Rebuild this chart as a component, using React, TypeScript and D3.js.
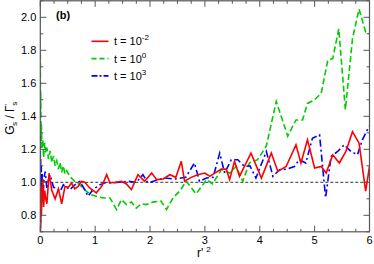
import React from "react";
import * as d3 from "d3";

// r'^2 vs G'_s / Gamma'_s, three times
const redSeries: [number, number][] = [
  [0, 1.0], [0.003, 0.7], [0.006, 0.98], [0.01, 0.75], [0.015, 0.95], [0.02, 0.8],
  [0.03, 0.92], [0.045, 1.02], [0.06, 0.85], [0.08, 0.95], [0.1, 0.9], [0.12, 0.87],
  [0.16, 1.055], [0.21, 0.95], [0.27, 0.9], [0.33, 0.96], [0.39, 0.87], [0.45, 0.975],
  [0.51, 0.97], [0.57, 0.995], [0.63, 0.96], [0.69, 0.975], [0.75, 1.005], [0.81, 1.0],
  [0.9, 0.966], [1.02, 0.936], [1.12, 0.976], [1.21, 1.046], [1.27, 0.996], [1.37, 1.0],
  [1.48, 1.006], [1.57, 0.99], [1.66, 0.956], [1.78, 1.046], [1.9, 1.006], [2.03, 1.056],
  [2.12, 1.016], [2.24, 1.02], [2.36, 1.046], [2.47, 1.03], [2.57, 1.127], [2.63, 1.006],
  [2.75, 1.03], [2.87, 1.046], [3.0, 1.056], [3.09, 1.036], [3.18, 1.056], [3.3, 1.08],
  [3.39, 1.08], [3.45, 1.016], [3.54, 1.127], [3.63, 1.036], [3.84, 1.177], [4.03, 1.026],
  [4.21, 1.177], [4.33, 1.066], [4.48, 1.096], [4.66, 1.227], [4.75, 1.117], [4.87, 1.257],
  [5.0, 1.087], [5.12, 1.096], [5.21, 1.056], [5.33, 1.167], [5.45, 1.117], [5.57, 1.187],
  [5.69, 1.307], [5.81, 1.237], [5.93, 0.946], [6.0, 1.096],
];

const greenSeries: [number, number][] = [
  [0, 1.78], [0.003, 1.4], [0.008, 1.55], [0.014, 1.25], [0.02, 1.35], [0.03, 1.2],
  [0.045, 1.26], [0.06, 1.15], [0.08, 1.24], [0.1, 1.18], [0.12, 1.21], [0.15, 1.14],
  [0.18, 1.19], [0.21, 1.12], [0.24, 1.16], [0.27, 1.1], [0.3, 1.13], [0.33, 1.08],
  [0.36, 1.12], [0.39, 1.06], [0.42, 1.1], [0.45, 1.05], [0.48, 1.07], [0.54, 1.035],
  [0.63, 1.005], [0.72, 0.985], [0.84, 0.945], [0.93, 0.925], [1.02, 0.915], [1.15, 0.905],
  [1.27, 0.905], [1.39, 0.835], [1.48, 0.895], [1.57, 0.865], [1.66, 0.88], [1.75, 0.843],
  [1.84, 0.87], [1.93, 0.865], [2.05, 0.88], [2.2, 0.886], [2.3, 0.835], [2.42, 0.906],
  [2.54, 0.946], [2.66, 1.006], [2.84, 0.93], [3.03, 1.016], [3.14, 0.99], [3.3, 1.077],
  [3.45, 1.056], [3.57, 1.096], [3.69, 1.006], [3.81, 1.117], [3.96, 1.137], [4.12, 1.22],
  [4.3, 1.49], [4.51, 1.28], [4.66, 1.378], [4.78, 1.378], [4.87, 1.478], [5.0, 1.5],
  [5.12, 1.54], [5.24, 1.74], [5.33, 1.75], [5.44, 1.93], [5.56, 1.44], [5.69, 1.87],
  [5.81, 2.05], [5.93, 1.91], [6.0, 1.9],
];

const blueSeries: [number, number][] = [
  [0, 1.28], [0.003, 0.72], [0.007, 1.15], [0.012, 0.8], [0.018, 1.1], [0.025, 0.88],
  [0.035, 1.05], [0.05, 0.92], [0.07, 1.03], [0.09, 1.065], [0.12, 0.96], [0.15, 1.02],
  [0.18, 1.045], [0.24, 0.97], [0.3, 0.965], [0.36, 0.945], [0.42, 0.985], [0.48, 0.97],
  [0.54, 0.955], [0.63, 0.985], [0.72, 1.005], [0.81, 0.955], [0.87, 0.915], [0.96, 0.956],
  [1.09, 0.986], [1.2, 1.0], [1.3, 0.996], [1.45, 1.0], [1.6, 1.006], [1.75, 1.0],
  [1.87, 1.046], [1.96, 0.996], [2.15, 1.016], [2.27, 1.026], [2.45, 1.02], [2.65, 1.03],
  [2.81, 1.117], [2.9, 1.006], [3.03, 1.026], [3.15, 1.03], [3.27, 1.177], [3.36, 1.056],
  [3.48, 1.137], [3.6, 1.137], [3.72, 1.096], [3.82, 1.1], [3.93, 1.026], [4.12, 1.187],
  [4.24, 1.036], [4.36, 1.076], [4.5, 1.08], [4.63, 1.096], [4.72, 1.137], [4.84, 1.117],
  [4.96, 1.267], [5.09, 1.287], [5.2, 0.906], [5.3, 1.157], [5.42, 1.187], [5.54, 1.227],
  [5.66, 1.187], [5.78, 1.167], [5.87, 1.257], [5.96, 1.317], [6.0, 1.34],
];

const xTicks = [0, 1, 2, 3, 4, 5, 6];
const yTicks = [0.8, 1.0, 1.2, 1.4, 1.6, 1.8, 2.0];
const legendExponents = ["-2", "0", "3"];

const W = 374;
const H = 264;
const left = 40.3;
const right = 369.5;
const top = 0.8;
const bottom = 231.8;

export default function App() {
  const x = d3.scaleLinear().domain([0, 6]).range([left, right]);
  const y = d3.scaleLinear().domain([0.7, 2.1]).range([bottom, top]);
  const line = d3
    .line<[number, number]>()
    .x((d) => x(d[0]))
    .y((d) => y(d[1]));

  const xMinor = d3.range(0, 6.001, 0.25);
  const yMinor = d3.range(0.7, 2.1001, 0.1);

  const styles = [
    { data: redSeries, color: "#ff0000", dash: "none" },
    { data: greenSeries, color: "#00cc00", dash: "6,3" },
    { data: blueSeries, color: "#0000ff", dash: "7,3,2,3" },
  ];
  const drawOrder = [1, 2, 0];
  const font = "'Liberation Sans', Arial, sans-serif";
  const axisColor = "#555";

  return (
    <svg
      width={W}
      height={H}
      style={{ position: "absolute", left: 0, top: 0, background: "#fff" }}
      fontFamily={font}
    >
      <defs>
        <clipPath id="plot">
          <rect x={left} y={top} width={right - left} height={bottom - top} />
        </clipPath>
      </defs>

      {/* reference line at 1 */}
      <line
        x1={x(0)}
        x2={x(6)}
        y1={y(1)}
        y2={y(1)}
        stroke="#000"
        strokeWidth={0.8}
        strokeDasharray="3,2"
      />

      <g clipPath="url(#plot)">
        {drawOrder.map((i) => (
          <path
            key={i}
            d={line(styles[i].data) || ""}
            fill="none"
            stroke={styles[i].color}
            strokeWidth={1.6}
            strokeDasharray={styles[i].dash}
            strokeLinejoin="miter"
          />
        ))}
      </g>

      {/* ticks, pointing inward on all four sides */}
      <g stroke={axisColor} strokeWidth={1}>
        {xMinor.map((v, i) => {
          const major = Math.abs(v - Math.round(v)) < 1e-6;
          const len = major ? 6 : 3;
          return (
            <g key={"xt" + i}>
              <line x1={x(v)} x2={x(v)} y1={bottom} y2={bottom - len} />
              <line x1={x(v)} x2={x(v)} y1={top} y2={top + len} />
            </g>
          );
        })}
        {yMinor.map((v, i) => {
          const major = Math.abs(v * 5 - Math.round(v * 5)) < 1e-6;
          const len = major ? 6 : 3;
          return (
            <g key={"yt" + i}>
              <line x1={left} x2={left + len} y1={y(v)} y2={y(v)} />
              <line x1={right} x2={right - len} y1={y(v)} y2={y(v)} />
            </g>
          );
        })}
      </g>

      <rect
        x={left}
        y={top}
        width={right - left}
        height={bottom - top}
        fill="none"
        stroke={axisColor}
        strokeWidth={1.2}
      />

      {/* tick labels */}
      <g fontSize={11} fill="#000">
        {xTicks.map((v) => (
          <text key={"xl" + v} x={x(v)} y={bottom + 12} textAnchor="middle">
            {v}
          </text>
        ))}
        {yTicks.map((v) => (
          <text key={"yl" + v} x={left - 4} y={y(v) + 4} textAnchor="end">
            {d3.format(".1f")(v)}
          </text>
        ))}
      </g>

      {/* axis titles */}
      <text x={197} y={257} fontSize={12} fill="#000">
        r'
        <tspan dx={3} dy={-5} fontSize={8}>
          2
        </tspan>
      </text>
      <text
        transform={`translate(14, ${(top + bottom) / 2 + 2}) rotate(-90)`}
        textAnchor="middle"
        fontSize={12}
        fill="#000"
      >
        G
        <tspan dy={-4} fontSize={8}>'</tspan>
        <tspan dx={-2} dy={7} fontSize={8}>s</tspan>
        <tspan dy={-3}> / Γ</tspan>
        <tspan dy={-4} fontSize={8}>'</tspan>
        <tspan dx={-2} dy={7} fontSize={8}>s</tspan>
      </text>

      <text x={56} y={19} fontSize={11} fontWeight="bold" fill="#000">
        (b)
      </text>

      {/* legend */}
      {styles.map((s, i) => {
        const ly = 41.3 + i * 17.3;
        return (
          <g key={"lg" + i}>
            <line
              x1={91.5}
              x2={108.5}
              y1={ly}
              y2={ly}
              stroke={s.color}
              strokeWidth={1.6}
              strokeDasharray={s.dash === "none" ? "none" : i === 1 ? "5,3" : "6,2,2,2"}
            />
            <text x={114} y={ly + 4} fontSize={11} fill="#000">
              t = 10
              <tspan dy={-5} fontSize={8}>
                {legendExponents[i]}
              </tspan>
            </text>
          </g>
        );
      })}
    </svg>
  );
}
